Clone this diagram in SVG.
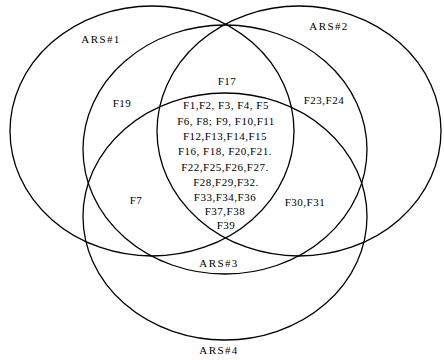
<svg xmlns="http://www.w3.org/2000/svg" width="444" height="360" viewBox="0 0 444 360">
<style>
.set{fill:none;stroke:#000;stroke-width:1.3}
text{font-family:"Liberation Serif","Times New Roman",serif;font-size:11px;fill:#000;text-anchor:middle}
.lbl{letter-spacing:1.4px}
.f{letter-spacing:0.5px}
</style>
<rect width="444" height="360" fill="#fff"/>
<g id="ars1"><ellipse class="set" cx="152" cy="131" rx="142" ry="125"/><text class="lbl" x="101" y="43">ARS#1</text></g>
<g id="ars2"><ellipse class="set" cx="299" cy="131" rx="142" ry="125"/><text class="lbl" x="329" y="30">ARS#2</text></g>
<g id="ars3"><ellipse class="set" cx="225" cy="149.5" rx="142" ry="124.5"/><text class="lbl" x="219" y="267">ARS#3</text></g>
<g id="ars4"><ellipse class="set" cx="225" cy="216.5" rx="142" ry="123.5"/><text class="lbl" x="219" y="354">ARS#4</text></g>
<g id="regions" class="f">
<text x="227" y="85">F17</text>
<text x="226" y="109">F1,F2, F3, F4, F5</text>
<text x="226" y="125">F6, F8; F9, F10,F11</text>
<text x="225" y="140">F12,F13,F14,F15</text>
<text x="225" y="155">F16, F18, F20,F21.</text>
<text x="225" y="171">F22,F25,F26,F27.</text>
<text x="226" y="186">F28,F29,F32.</text>
<text x="225" y="201">F33,F34,F36</text>
<text x="225" y="215">F37,F38</text>
<text x="226" y="229">F39</text>
<text x="122" y="107">F19</text>
<text x="324" y="104">F23,F24</text>
<text x="136" y="204">F7</text>
<text x="305" y="206">F30,F31</text>
</g>
</svg>
